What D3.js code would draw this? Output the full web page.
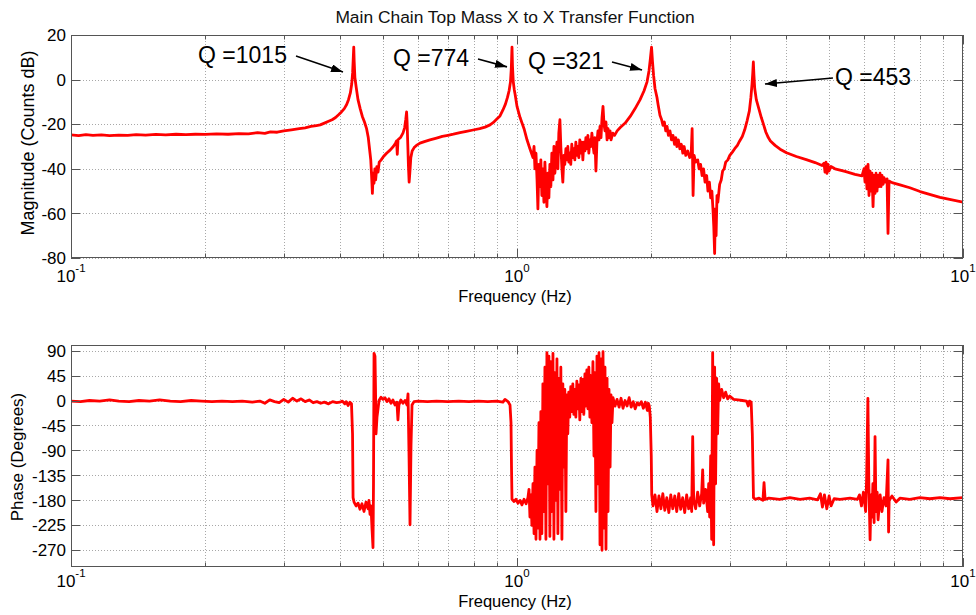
<!DOCTYPE html>
<html>
<head>
<meta charset="utf-8">
<script src="https://cdnjs.cloudflare.com/ajax/libs/d3/7.8.5/d3.min.js"></script>
<style>
  body { margin: 0; background: #fff; }
  svg { display: block; font-family: "Liberation Sans", Arial, sans-serif; }
</style>
</head>
<body>
<div id="chart"></div>
<script>
// Axis ticks
const magTicks = [20, 0, -20, -40, -60, -80];
const phaseTicks = [90, 45, 0, -45, -90, -135, -180, -225, -270];
const decades = [0.1, 1, 10];
const decadeExponents = ["-1", "0", "1"];
const minorMultiples = [2, 3, 4, 5, 6, 7, 8, 9];

// Resonance annotations (freq Hz, dB)
const qLabels = ["Q =1015", "Q =774", "Q =321", "Q =453"];
const qLabelAt = [[0.1927, 7.4], [0.527, 5.9], [1.058, 4.8], [5.164, -2.4]];
const qArrowFrom = [[0.3195, 10.6], [0.8176, 9.2], [1.633, 7.9], [5.11, 0.7]];
const qArrowTo = [[0.4073, 3.4], [0.9497, 5.7], [1.907, 4.3], [3.597, -2.0]];

// Magnitude (freq Hz, dB)
const magnitude = [
  [0.100,-24.8],[0.104,-25.1],[0.108,-24.7],[0.112,-25.0],[0.117,-24.8],[0.122,-25.1],[0.128,-24.9],
  [0.134,-25.0],[0.140,-24.7],[0.147,-24.9],[0.155,-24.6],[0.163,-24.8],[0.172,-24.5],[0.181,-24.7],
  [0.190,-24.5],[0.200,-24.6],[0.212,-24.3],[0.225,-24.5],[0.238,-24.2],[0.250,-24.3],[0.262,-23.8],
  [0.272,-24.1],[0.280,-23.4],[0.290,-23.6],[0.300,-23.0],[0.312,-22.5],[0.325,-22.0],[0.335,-21.6],
  [0.345,-21.0],[0.355,-20.6],[0.362,-20.3],[0.370,-19.5],[0.378,-18.7],[0.385,-18.0],[0.392,-17.0],
  [0.398,-15.8],[0.404,-14.5],[0.410,-13.0],[0.415,-11.2],[0.419,-9.0],[0.423,-6.0],[0.426,-2.0],
  [0.428,3.0],[0.4295,10.0],[0.4305,14.6],[0.4315,8.0],[0.433,1.0],[0.436,-3.5],[0.440,-9.0],
  [0.445,-13.0],[0.450,-16.5],[0.455,-19.0],[0.460,-22.0],[0.464,-26.0],[0.467,-31.0],[0.470,-36.0],
  [0.472,-43.0],[0.474,-51.0],[0.476,-42.0],[0.478,-46.5],[0.480,-40.0],[0.482,-45.0],[0.485,-39.0],
  [0.488,-41.5],[0.491,-37.0],[0.496,-36.0],[0.502,-34.5],[0.510,-33.0],[0.520,-31.5],[0.528,-30.0],
  [0.534,-28.5],[0.537,-27.5],[0.539,-33.5],[0.541,-27.0],[0.548,-26.0],[0.555,-24.0],[0.560,-21.5],
  [0.563,-18.0],[0.5655,-14.5],[0.567,-19.0],[0.569,-29.0],[0.571,-39.0],[0.573,-46.0],[0.575,-42.0],
  [0.578,-35.0],[0.582,-32.0],[0.588,-30.5],[0.595,-29.5],[0.606,-28.5],[0.620,-27.8],[0.638,-27.0],
  [0.660,-26.2],[0.680,-25.5],[0.700,-25.0],[0.720,-24.5],[0.745,-23.8],[0.770,-23.2],[0.797,-22.6],
  [0.825,-22.0],[0.848,-21.3],[0.870,-20.3],[0.884,-19.3],[0.900,-17.8],[0.916,-16.3],[0.930,-13.6],
  [0.942,-11.0],[0.952,-8.0],[0.960,-5.0],[0.967,-1.0],[0.971,5.0],[0.9745,14.6],[0.977,6.0],
  [0.981,-1.0],[0.986,-4.5],[0.990,-6.5],[1.000,-12.0],[1.016,-17.0],[1.037,-22.0],[1.053,-27.0],
  [1.069,-31.0],[1.086,-35.0],
  [1.092,-30],[1.097,-40],[1.103,-33],[1.109,-45],[1.114,-58],[1.120,-38],[1.126,-48],[1.131,-36],
  [1.137,-52],[1.143,-40],[1.149,-55],[1.155,-37],[1.161,-50],[1.167,-57],[1.173,-42],[1.179,-53],
  [1.185,-38],[1.191,-48],[1.197,-33],[1.204,-45],[1.210,-30],[1.216,-42],[1.222,-35],[1.229,-28],
  [1.235,-40],[1.241,-24],[1.248,-18],[1.254,-30],[1.261,-40],[1.267,-46],[1.274,-34],[1.280,-38],
  [1.287,-31],[1.293,-36],[1.300,-30],[1.307,-37],[1.313,-33],[1.320,-38],[1.327,-29],[1.334,-35],
  [1.341,-31],[1.348,-36],[1.355,-28],[1.362,-34],[1.369,-30],[1.376,-35],[1.383,-27],[1.391,-33],
  [1.398,-28],[1.405,-36],[1.412,-28],[1.420,-32],[1.427,-26],[1.434,-31],[1.442,-25],[1.449,-33],
  [1.457,-27],[1.464,-30],[1.472,-24],[1.480,-29],[1.488,-33],[1.495,-26],[1.503,-41],[1.511,-28],
  [1.519,-23],[1.527,-27],[1.535,-21],[1.543,-26],[1.551,-17],[1.559,-12],[1.567,-20],[1.575,-23],
  [1.583,-19],[1.592,-27],[1.600,-22],[1.608,-26],[1.617,-23],[1.625,-27],[1.640,-24],[1.655,-25],
  [1.677,-23],[1.704,-21.5],[1.748,-19.5],[1.794,-16.5],[1.840,-13],[1.888,-9],[1.927,-5],[1.957,-1],
  [1.977,4],[1.990,9],[2.003,14.5],[2.013,8],[2.024,2],[2.039,-4],[2.060,-8],[2.071,-11],[2.092,-16],
  [2.110,-18],[2.125,-20.5],[2.140,-19],[2.155,-23],[2.170,-21],[2.185,-25],[2.203,-23],[2.220,-27],
  [2.237,-25],[2.255,-29],[2.270,-26],[2.283,-30],[2.300,-27],[2.318,-31],[2.336,-29],[2.354,-33],
  [2.370,-30],[2.390,-34],[2.414,-32],[2.439,-35],[2.458,-33],[2.470,-22],[2.482,-52],[2.495,-34],
  [2.515,-37],[2.542,-36],[2.560,-40],[2.580,-38],[2.600,-43],[2.620,-40],[2.640,-46],[2.662,-43],
  [2.680,-50],[2.700,-46],[2.718,-53],[2.735,-50],[2.750,-58],[2.762,-66],[2.774,-78],[2.785,-58],
  [2.795,-70],[2.808,-52],[2.820,-55],[2.847,-47],[2.870,-45],[2.891,-41],[2.915,-40],[2.937,-37],
  [2.970,-36],[3.000,-34],[3.040,-32.5],[3.077,-31],[3.120,-29.5],[3.157,-27.5],[3.200,-25.5],
  [3.240,-22.5],[3.280,-18.5],[3.319,-14],[3.345,-8],[3.365,-2],[3.378,3],[3.388,7.9],[3.398,2],
  [3.412,-4],[3.440,-9],[3.490,-13.5],[3.530,-17],[3.563,-19.5],[3.613,-23.5],[3.660,-26],[3.700,-27.5],
  [3.790,-29.5],[3.890,-31.2],[4.020,-32.8],[4.230,-34.5],[4.470,-36.0],[4.660,-37.2],[4.830,-38.5],
  [4.880,-37.5],[4.904,-41.5],[4.930,-37],[4.955,-42],[4.980,-38],[5.007,-41],[5.058,-39],[5.164,-40],
  [5.438,-41.2],[5.726,-42.5],[5.936,-43.2],[5.998,-40],[6.030,-46],[6.060,-39],[6.090,-49],[6.124,-38],
  [6.155,-52],[6.188,-41],[6.220,-50],[6.252,-42],[6.285,-57],[6.316,-43],[6.350,-51],[6.382,-42],
  [6.415,-50],[6.448,-43],[6.480,-48],[6.516,-42],[6.550,-48],[6.583,-43],[6.620,-47],[6.652,-44],
  [6.700,-46],[6.756,-44.5],[6.790,-69],[6.826,-45.5],[6.932,-46.2],[7.224,-47.2],[7.600,-48.5],
  [8.013,-50.2],[8.880,-52.8],[10.00,-55.0]
];

// Phase (freq Hz, degrees)
const phase = [
  [0.100,-1],[0.105,-2],[0.110,0],[0.116,-1],[0.122,1],[0.128,-1],[0.135,-2],[0.142,0],[0.150,-1],
  [0.158,1],[0.167,-1],[0.176,-2],[0.186,0],[0.196,-1],[0.207,-2],[0.218,-1],[0.230,-2],[0.242,-1],
  [0.255,-3],[0.265,-1],[0.272,-5],[0.279,1],[0.286,-2],[0.293,-4],[0.300,2],[0.307,-3],[0.314,4],
  [0.321,-1],[0.328,3],[0.335,-2],[0.342,1],[0.349,-4],[0.356,-2],[0.363,-5],[0.370,-3],[0.378,-6],
  [0.386,-2],[0.394,-4],[0.401,-3],[0.406,-1],[0.411,-6],[0.414,-2],[0.418,-9],[0.422,-3],[0.4255,-6],
  [0.4278,-60],[0.4290,-175],[0.4312,-183],[0.4357,-190],[0.4402,-185],[0.4446,-196],[0.4492,-186],
  [0.4539,-200],[0.4586,-183],[0.4633,-195],[0.4657,-180],[0.4682,-205],[0.4706,-190],[0.4730,-230],
  [0.4755,-265],[0.4767,-150],[0.4780,85],[0.4804,80],[0.4817,20],[0.4829,-60],[0.4854,-30],
  [0.4880,-15],[0.4905,0],[0.4955,6],[0.5006,2],[0.5058,5],[0.5110,-2],[0.5163,3],[0.5217,-5],
  [0.5270,1],[0.5327,-8],[0.5380,-3],[0.5408,-35],[0.5436,-8],[0.5490,1],[0.5550,-5],[0.5609,0],
  [0.5667,-8],[0.5697,12],[0.5727,-100],[0.5756,-224],[0.5786,-80],[0.5816,-8],[0.5876,-2],[0.600,-1],
  [0.630,-2],[0.660,-1],[0.700,-2],[0.740,-1],[0.780,-2],[0.820,-1],[0.860,-2],[0.900,-1],[0.930,-3],
  [0.9399,2],[0.9546,-2],[0.9645,-8],[0.9695,-40],[0.9720,-120],[0.9745,-178],[0.985,-182],[0.995,-178],
  [1.005,-185],[1.016,-180],[1.026,-188],[1.037,-178],[1.048,-186],[1.058,-175],
  [1.064,-160],[1.069,-210],[1.075,-170],[1.080,-225],[1.086,-150],[1.092,-240],[1.097,-120],[1.103,-250],
  [1.109,-90],[1.114,-230],[1.120,-40],[1.126,-250],[1.131,-20],[1.137,-240],[1.143,30],[1.149,-200],
  [1.155,60],[1.161,-250],[1.167,86],[1.173,-150],[1.179,80],[1.185,-245],[1.191,70],[1.197,-200],
  [1.204,85],[1.210,-250],[1.216,50],[1.222,-180],[1.229,75],[1.235,-240],[1.241,40],[1.248,-160],
  [1.254,60],[1.261,-250],[1.267,30],[1.274,-120],[1.280,20],[1.287,-200],[1.293,10],[1.300,-60],
  [1.306,15],[1.313,-30],[1.320,25],[1.327,-20],[1.334,30],[1.341,-25],[1.348,20],[1.355,-30],
  [1.362,35],[1.369,-15],[1.376,28],[1.383,-35],[1.391,40],[1.398,-20],[1.405,38],[1.412,-25],
  [1.420,48],[1.427,-10],[1.434,55],[1.442,-15],[1.449,60],[1.457,-30],[1.464,45],[1.472,-40],
  [1.480,70],[1.488,-100],[1.495,50],[1.503,-200],[1.511,80],[1.519,-150],[1.527,86],[1.535,-260],
  [1.543,75],[1.551,-270],[1.559,88],[1.567,-230],[1.575,60],[1.583,-268],[1.592,40],[1.600,-200],
  [1.608,20],[1.617,-120],[1.625,10],[1.633,-40],[1.642,5],[1.659,-10],[1.676,2],[1.694,-12],
  [1.711,4],[1.729,-14],[1.747,0],[1.765,-10],[1.784,5],[1.803,-12],[1.822,-2],[1.841,-15],
  [1.860,-4],[1.880,-8],[1.900,-2],[1.920,-14],[1.940,-3],[1.960,-18],[1.970,-5],[1.980,-10],
  [1.990,-30],[2.000,-100],[2.005,-170],
  [2.018,-190],[2.039,-170],[2.060,-200],[2.081,-172],[2.102,-195],[2.123,-168],[2.145,-198],
  [2.167,-175],[2.190,-202],[2.212,-170],[2.235,-195],[2.258,-172],[2.281,-200],[2.305,-168],
  [2.328,-196],[2.352,-175],[2.377,-202],[2.401,-170],[2.426,-195],[2.451,-175],[2.464,-200],
  [2.477,-65],[2.490,-180],[2.515,-195],[2.541,-165],[2.568,-190],[2.594,-168],[2.608,-125],
  [2.621,-185],[2.648,-160],[2.676,-200],[2.690,-150],[2.704,-210],[2.718,-100],[2.732,-250],
  [2.746,86],[2.760,-260],[2.774,60],[2.788,-150],[2.803,40],[2.817,-60],[2.832,30],[2.847,0],
  [2.876,20],[2.906,5],[2.936,15],[2.967,3],[2.998,8],[3.060,2],[3.130,1],[3.200,0],[3.270,-1],
  [3.300,-10],[3.320,-1],[3.350,-3],[3.370,-60],[3.390,-175],[3.420,-178],[3.490,-176],[3.560,-180],
  [3.580,-148],[3.600,-178],[3.670,-176],[3.880,-178],[4.090,-175],[4.310,-178],[4.530,-176],
  [4.720,-179],[4.790,-168],[4.840,-192],[4.890,-170],[4.950,-195],[5.010,-172],[5.060,-190],
  [5.140,-177],[5.300,-178],[5.580,-176],[5.800,-178],[5.860,-170],[5.920,-190],[5.980,-165],
  [6.050,-200],[6.080,-140],[6.120,4],[6.150,-150],[6.190,-251],[6.220,-170],[6.250,-210],
  [6.280,-150],[6.320,-220],[6.350,-65],[6.380,-200],[6.420,-165],[6.450,-215],[6.520,-170],
  [6.580,-200],[6.650,-175],[6.720,-190],[6.790,-107],[6.810,-237],[6.830,-180],[6.930,-172],
  [7.080,-183],[7.220,-176],[7.600,-178],[8.000,-175],[8.430,-177],[8.880,-175],[9.350,-177],[10.00,-175]
];

const width = 976;
const height = 615;
const plotLeft = 71;
const plotRight = 963;

const svg = d3.select("#chart")
    .append("svg")
    .attr("width", width)
    .attr("height", height);

svg.append("defs").append("marker")
    .attr("id", "arrowhead")
    .attr("markerUnits", "userSpaceOnUse")
    .attr("markerWidth", 12)
    .attr("markerHeight", 8)
    .attr("refX", 12)
    .attr("refY", 4)
    .attr("orient", "auto")
    .append("path")
    .attr("d", "M0,0 L12,4 L0,8 Z")
    .attr("fill", "#000");

const x = d3.scaleLog().domain([0.1, 10]).range([plotLeft, plotRight]);

// every decade plus its 2..9 multiples
const minorTicks = [];
decades.slice(0, -1).forEach(d => minorMultiples.forEach(m => minorTicks.push(d * m)));

svg.append("text")
    .attr("x", 515)
    .attr("y", 22.5)
    .attr("text-anchor", "middle")
    .attr("font-size", "17.4px")
    .attr("fill", "#111")
    .text("Main Chain Top Mass X to X Transfer Function");

function drawPanel(opts) {
    const y = d3.scaleLinear().domain(opts.domain).range([opts.bottom, opts.top]);
    const g = svg.append("g");
    const clipId = opts.id + "-clip";

    g.append("clipPath").attr("id", clipId)
        .append("rect")
        .attr("x", plotLeft).attr("y", opts.top)
        .attr("width", plotRight - plotLeft).attr("height", opts.bottom - opts.top);

    // dotted grid
    const grid = g.append("g")
        .attr("stroke", "#a8a8a8")
        .attr("stroke-width", 1)
        .attr("stroke-dasharray", "1,2");
    grid.selectAll(".vx")
        .data(decades.concat(minorTicks))
        .enter().append("line")
        .attr("x1", d => Math.round(x(d)) + 0.5).attr("x2", d => Math.round(x(d)) + 0.5)
        .attr("y1", opts.top).attr("y2", opts.bottom);
    grid.selectAll(".hy")
        .data(opts.ticks)
        .enter().append("line")
        .attr("x1", plotLeft).attr("x2", plotRight)
        .attr("y1", d => Math.round(y(d)) + 0.5).attr("y2", d => Math.round(y(d)) + 0.5);

    // data trace
    g.append("path")
        .datum(opts.series)
        .attr("clip-path", `url(#${clipId})`)
        .attr("fill", "none")
        .attr("stroke", "#ff0000")
        .attr("stroke-width", 2.8)
        .attr("stroke-linejoin", "round")
        .attr("d", d3.line().x(d => x(d[0])).y(d => y(d[1])));

    // box
    g.append("rect")
        .attr("x", plotLeft + 0.5).attr("y", opts.top + 0.5)
        .attr("width", plotRight - plotLeft - 1).attr("height", opts.bottom - opts.top - 1)
        .attr("fill", "none")
        .attr("stroke", "#555")
        .attr("stroke-width", 1);

    // inward ticks on all four sides
    const ticks = g.append("g").attr("stroke", "#555").attr("stroke-width", 1);
    const xTickData = decades.map(v => ({ v, len: 9 })).concat(minorTicks.map(v => ({ v, len: 4.5 })));
    xTickData.forEach(t => {
        const px = Math.round(x(t.v)) + 0.5;
        ticks.append("line").attr("x1", px).attr("x2", px).attr("y1", opts.bottom).attr("y2", opts.bottom - t.len);
        ticks.append("line").attr("x1", px).attr("x2", px).attr("y1", opts.top).attr("y2", opts.top + t.len);
    });
    opts.ticks.forEach(v => {
        const py = Math.round(y(v)) + 0.5;
        ticks.append("line").attr("x1", plotLeft).attr("x2", plotLeft + 9).attr("y1", py).attr("y2", py);
        ticks.append("line").attr("x1", plotRight).attr("x2", plotRight - 9).attr("y1", py).attr("y2", py);
    });

    // y tick labels
    g.append("g").selectAll("text")
        .data(opts.ticks)
        .enter().append("text")
        .attr("x", plotLeft - 5)
        .attr("y", d => y(d))
        .attr("dy", "0.36em")
        .attr("text-anchor", "end")
        .attr("font-size", "17px")
        .attr("fill", "#000")
        .text(d => d);

    // x tick labels 10^n
    const xl = g.append("g").selectAll("text")
        .data(decades)
        .enter().append("text")
        .attr("x", d => x(d))
        .attr("y", opts.bottom + opts.tickLabelDy)
        .attr("text-anchor", "middle")
        .attr("fill", "#000");
    xl.append("tspan").attr("font-size", "17px").text("10");
    xl.append("tspan").attr("font-size", "11.5px").attr("dy", -10).text((d, i) => decadeExponents[i]);

    g.append("text")
        .attr("x", 515)
        .attr("y", opts.bottom + opts.xLabelDy)
        .attr("text-anchor", "middle")
        .attr("font-size", "16.5px")
        .attr("fill", "#000")
        .text("Frequency (Hz)");

    g.append("text")
        .attr("transform", `translate(${opts.yLabelX},${opts.yLabelY}) rotate(-90)`)
        .attr("text-anchor", "middle")
        .attr("font-size", opts.yLabelSize)
        .attr("fill", "#000")
        .text(opts.yLabel);

    return y;
}

const yMag = drawPanel({
    id: "mag", top: 35, bottom: 258, domain: [-80, 20], ticks: magTicks, series: magnitude,
    tickLabelDy: 24.2, xLabelDy: 43.5,
    yLabel: "Magnitude (Counts dB)", yLabelX: 34, yLabelY: 143, yLabelSize: "18px"
});

drawPanel({
    id: "phase", top: 345, bottom: 567, domain: [-300, 100], ticks: phaseTicks, series: phase,
    tickLabelDy: 20, xLabelDy: 40,
    yLabel: "Phase (Degrees)", yLabelX: 22.5, yLabelY: 457, yLabelSize: "17px"
});

// Q annotations with arrows
const notes = svg.append("g");
qLabels.forEach((label, i) => {
    notes.append("line")
        .attr("x1", x(qArrowFrom[i][0])).attr("y1", yMag(qArrowFrom[i][1]))
        .attr("x2", x(qArrowTo[i][0])).attr("y2", yMag(qArrowTo[i][1]))
        .attr("stroke", "#000")
        .attr("stroke-width", 1.6)
        .attr("marker-end", "url(#arrowhead)");
    notes.append("text")
        .attr("x", x(qLabelAt[i][0]))
        .attr("y", yMag(qLabelAt[i][1]))
        .attr("font-size", "23px")
        .attr("fill", "#000")
        .text(label);
});
</script>
</body>
</html>
